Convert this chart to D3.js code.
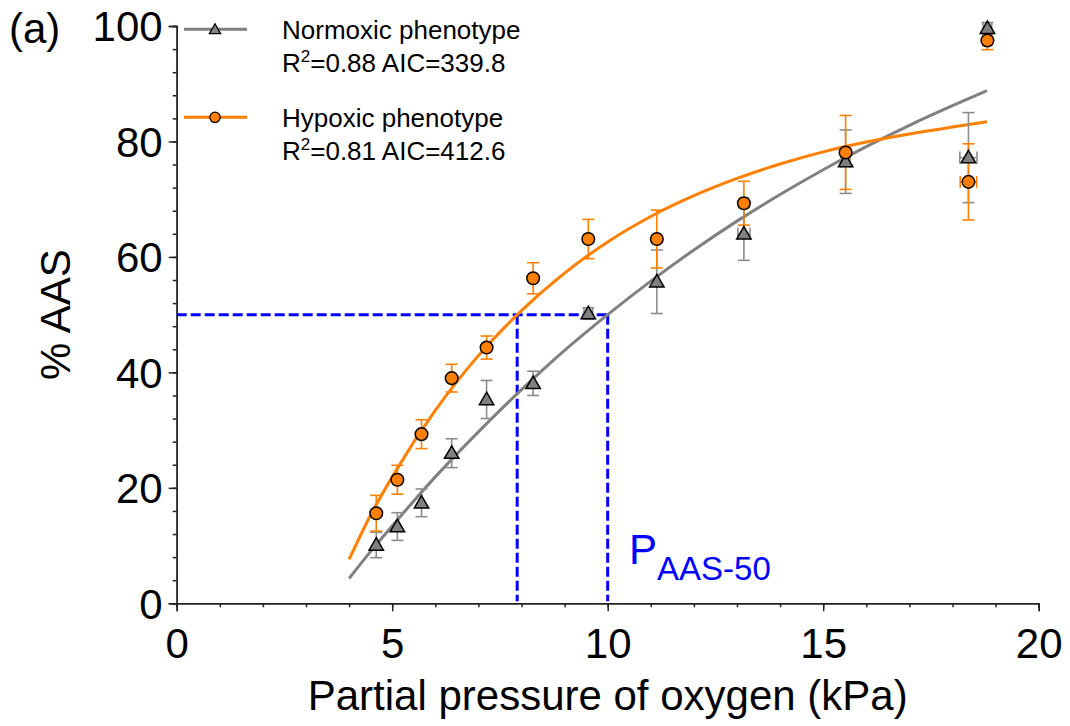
<!DOCTYPE html>
<html><head><meta charset="utf-8">
<script src="https://cdn.jsdelivr.net/npm/d3@7"></script>
<style>body{margin:0;background:#fff;} svg{display:block;font-family:"Liberation Sans",Arial,sans-serif;}</style>
</head><body>
<svg id="c" width="1070" height="726"></svg>
<script>
// ---- data ----
const pO2 = [4.63, 5.12, 5.68, 6.38, 7.19, 8.27, 9.55, 11.14, 13.16, 15.52, 18.37, 18.81];
const normoxic = [10.1, 13.3, 17.4, 26.0, 35.3, 38.1, 50.2, 55.7, 64.0, 76.5, 77.2, 99.6];
const normoxicErr = [2.2, 2.4, 2.4, 2.5, 3.3, 2.1, 1.0, 5.5, 4.6, 5.5, 7.8, 1.0];
const normoxicXErr = [0, 0, 0, 0, 0, 0, 0.1, 0, 0.14, 0.1, 0.2, 0.1];
const hypoxic = [15.6, 21.4, 29.3, 39.0, 44.3, 56.3, 63.1, 63.1, 69.3, 78.1, 73.0, 97.5];
const hypoxicErr = [3.1, 2.5, 2.5, 2.4, 2.0, 2.7, 3.4, 5.0, 3.8, 6.4, 6.6, 1.6];
const hypoxicXErr = [0, 0, 0, 0, 0, 0, 0, 0, 0.1, 0.1, 0.19, 0.1];
const fitX = [4, 4.5, 5, 6, 7, 8, 9, 10, 11, 12, 13, 14, 15, 16, 17, 18, 18.8];
const normoxicFit = [4.3, 9.0, 13.4, 21.9, 29.7, 37.0, 43.8, 50.0, 55.8, 61.2, 66.2, 70.8, 75.1, 79.1, 82.8, 86.2, 88.8];
const hypoxicFit = [7.6, 15.3, 21.9, 33.4, 42.9, 50.7, 57.2, 62.6, 67.0, 70.6, 73.6, 76.1, 78.2, 79.9, 81.3, 82.5, 83.4];
const p50Level = 50;
const p50Hypoxic = 7.9;
const p50Normoxic = 10.0;
const xTicks = [0, 5, 10, 15, 20];
const yTicks = [0, 20, 40, 60, 80, 100];
const legendLabels = ["Normoxic phenotype", "Hypoxic phenotype"];
const legendStats = [["0.88", "339.8"], ["0.81", "412.6"]];

// ---- drawing ----
const svg = d3.select("#c");
const x = d3.scaleLinear().domain([0, 20]).range([176.7, 1038.7]);
const y = d3.scaleLinear().domain([0, 100]).range([603.3, 26]);
const GRAY = "#808080", ORANGE = "#ff8000", BLUE = "#0000ff";

// axes
const xAxis = svg.append("g").attr("transform", `translate(0,${y(0)})`);
xAxis.call(d3.axisBottom(x).tickValues(d3.range(0, 21, 1)).tickSize(4).tickFormat(""));
xAxis.append("g").call(d3.axisBottom(x).tickValues(xTicks).tickSize(8).tickFormat(d3.format("d")));
const yAxis = svg.append("g").attr("transform", `translate(${x(0)},0)`);
yAxis.call(d3.axisLeft(y).tickValues(d3.range(0, 101, 4)).tickSize(4).tickFormat(""));
yAxis.append("g").call(d3.axisLeft(y).tickValues(yTicks).tickSize(8).tickFormat(d3.format("d")));
svg.selectAll(".domain").attr("stroke", "#222").attr("stroke-width", 1.5);
svg.selectAll(".tick line").attr("stroke", "#222").attr("stroke-width", 1.5);
xAxis.selectAll("text").attr("font-size", 42).attr("fill", "#000").attr("font-family", "Liberation Sans, Arial").attr("dy", "0").attr("y", 55);
yAxis.selectAll("text").attr("font-size", 42).attr("fill", "#000").attr("font-family", "Liberation Sans, Arial").attr("x", -14).attr("dy", "0.35em");

// axis titles
svg.append("text").attr("x", (x(0) + x(20)) / 2).attr("y", 710).attr("text-anchor", "middle")
  .attr("font-size", 42).text("Partial pressure of oxygen (kPa)");
svg.append("text").attr("transform", `translate(70,${(y(0) + y(100)) / 2}) rotate(-90)`)
  .attr("text-anchor", "middle").attr("font-size", 42).text("% AAS");
svg.append("text").attr("x", 9).attr("y", 43).attr("font-size", 42).text("(a)");

// P50 dashed guides
const dash = "10,4";
svg.append("line").attr("x1", x(0)).attr("x2", x(p50Normoxic)).attr("y1", y(p50Level)).attr("y2", y(p50Level))
  .attr("stroke", BLUE).attr("stroke-width", 3).attr("stroke-dasharray", dash);
[p50Hypoxic, p50Normoxic].forEach(v => {
  svg.append("line").attr("x1", x(v)).attr("x2", x(v)).attr("y1", y(p50Level)).attr("y2", y(0) - 2)
    .attr("stroke", BLUE).attr("stroke-width", 3).attr("stroke-dasharray", dash);
});
const pl = svg.append("text").attr("x", 629).attr("y", 564).attr("fill", BLUE).attr("font-size", 42);
pl.append("tspan").text("P");
pl.append("tspan").attr("font-size", 33).attr("dy", 16).text("AAS-50");

// fit curves
const line = d3.line().curve(d3.curveMonotoneX);
svg.append("path").attr("d", line(fitX.map((d, i) => [x(d), y(normoxicFit[i])])))
  .attr("fill", "none").attr("stroke", GRAY).attr("stroke-width", 3);
svg.append("path").attr("d", line(fitX.map((d, i) => [x(d), y(hypoxicFit[i])])))
  .attr("fill", "none").attr("stroke", ORANGE).attr("stroke-width", 3);

// error bars
function errBars(vals, err, xerr, color) {
  const g = svg.append("g").attr("stroke", color).attr("stroke-width", 1.6).attr("fill", "none");
  pO2.forEach((px, i) => {
    const cx = x(px), v = vals[i], e = err[i];
    g.append("line").attr("x1", cx).attr("x2", cx).attr("y1", y(v - e)).attr("y2", y(v + e));
    g.append("line").attr("x1", cx - 6).attr("x2", cx + 6).attr("y1", y(v - e)).attr("y2", y(v - e));
    g.append("line").attr("x1", cx - 6).attr("x2", cx + 6).attr("y1", y(v + e)).attr("y2", y(v + e));
    if (xerr[i] > 0) {
      const xl = x(px - xerr[i]), xr = x(px + xerr[i]), cy = y(v);
      g.append("line").attr("x1", xl).attr("x2", xr).attr("y1", cy).attr("y2", cy);
      g.append("line").attr("x1", xl).attr("x2", xl).attr("y1", cy - 6).attr("y2", cy + 6);
      g.append("line").attr("x1", xr).attr("x2", xr).attr("y1", cy - 6).attr("y2", cy + 6);
    }
  });
}
errBars(normoxic, normoxicErr, normoxicXErr, "#8c8c8c");
errBars(hypoxic, hypoxicErr, hypoxicXErr, ORANGE);

const tri = d3.symbol().type(d3.symbolTriangle).size(90);
const triSmall = d3.symbol().type(d3.symbolTriangle).size(55);
svg.append("g").selectAll("path").data(pO2).join("path")
  .attr("transform", (d, i) => `translate(${x(d)},${y(normoxic[i]) + 1})`)
  .attr("d", tri).attr("fill", GRAY).attr("stroke", "#000").attr("stroke-width", 1.5);
svg.append("g").selectAll("circle").data(pO2).join("circle")
  .attr("cx", d => x(d)).attr("cy", (d, i) => y(hypoxic[i])).attr("r", 6.3)
  .attr("fill", ORANGE).attr("stroke", "#000").attr("stroke-width", 1.5);

// legend
const lg = svg.append("g");
const legY = [29.3, 117.3];
[GRAY, ORANGE].forEach((col, i) => {
  lg.append("line").attr("x1", 184).attr("x2", 247).attr("y1", legY[i]).attr("y2", legY[i])
    .attr("stroke", col).attr("stroke-width", 3);
  if (i === 0) {
    lg.append("path").attr("transform", `translate(215,${legY[i] + 1})`).attr("d", triSmall)
      .attr("fill", GRAY).attr("stroke", "#000").attr("stroke-width", 1.3);
  } else {
    lg.append("circle").attr("cx", 215).attr("cy", legY[i]).attr("r", 5.2)
      .attr("fill", ORANGE).attr("stroke", "#000").attr("stroke-width", 1.3);
  }
  lg.append("text").attr("x", 282).attr("y", legY[i] + 10).attr("font-size", 26).text(legendLabels[i]);
  const t = lg.append("text").attr("x", 282).attr("y", legY[i] + 43).attr("font-size", 26);
  t.append("tspan").text("R");
  t.append("tspan").attr("font-size", 17).attr("dy", -10).text("2");
  t.append("tspan").attr("dy", 10).text(`=${legendStats[i][0]} AIC=${legendStats[i][1]}`);
});
</script>
</body></html>
